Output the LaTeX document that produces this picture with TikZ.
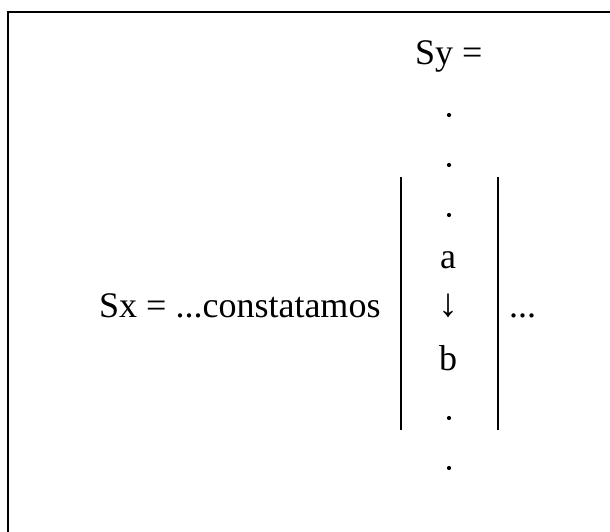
\documentclass[tikz,border=0pt]{standalone}
\usepackage{fontspec}
\setmainfont{Liberation Serif}
\begin{document}
\begin{tikzpicture}[x=1pt,y=-1pt,
  txt/.style={inner sep=0pt,font=\fontsize{36}{40}\selectfont},
  arrtxt/.style={inner sep=0pt,font=\fontsize{40}{44}\selectfont},
  dotn/.style={circle,fill=black,inner sep=0pt,minimum size=4.2pt},
  bar/.style={line width=1.6pt},
  frame/.style={line width=2.6pt}]
\useasboundingbox (0,0) rectangle (610,532);
\coordinate (ftr) at (612,12);
\coordinate (ftl) at (8,12);
\coordinate (fbl) at (8,534);
\draw[frame] (ftr) -- (ftl) -- (fbl);
\node[txt,anchor=base west] (sy) at (415,65) {Sy =};
\node[txt,anchor=base west] (sx) at (99,317) {Sx = ...constatamos};
\node[txt,anchor=base west] (etc) at (509,317) {...};
\node[dotn] (d1) at (449,115) {};
\node[dotn] (d2) at (449,165) {};
\node[dotn] (d3) at (449,215) {};
\node[txt,anchor=base] (a) at (448,268) {a};
\node[arrtxt] (arr) at (448,306) {↓};
\node[txt,anchor=base] (b) at (448,370) {b};
\node[dotn] (d4) at (449,418) {};
\node[dotn] (d5) at (449,468) {};
\coordinate (lt) at (401,177);
\coordinate (lb) at (401,430);
\coordinate (rt) at (498,177);
\coordinate (rb) at (498,430);
\draw[bar] (lt) -- (lb);
\draw[bar] (rt) -- (rb);
\end{tikzpicture}
\end{document}
